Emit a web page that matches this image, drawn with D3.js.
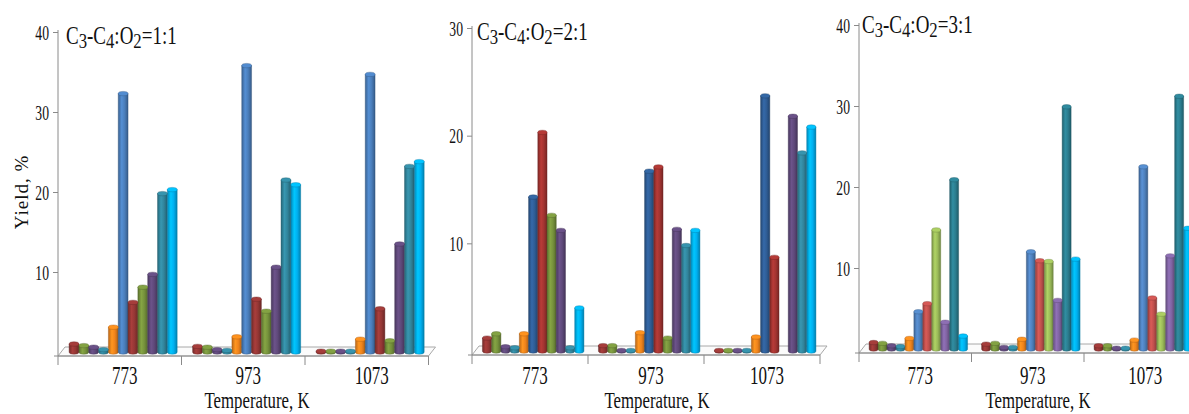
<!DOCTYPE html>
<html lang="en">
<head>
<meta charset="UTF-8">
<title>Yield vs temperature</title>
<style>
  body { margin: 0; background: #fff; }
  text { font-family: "Liberation Serif", "Times New Roman", "DejaVu Serif", serif; fill: #111; }
</style>
</head>
<body>
<svg id="chart" width="1189" height="414" font-family="Liberation Serif, serif"></svg>
<script src="https://cdn.jsdelivr.net/npm/d3@7/dist/d3.min.js"></script>
<script>

const categories = ["773", "973", "1073"]

// yield, % - 11 products per temperature, same order in each panel
const yield11 = [
    [1.0, 0.8, 0.6, 0.3, 3.1, 32.3, 6.2, 8.1, 9.7, 19.8, 20.3],
    [0.7, 0.6, 0.3, 0.2, 1.9, 35.8, 6.6, 5.1, 10.6, 21.5, 20.9],
    [0.1, 0.1, 0.1, 0.1, 1.6, 34.7, 5.4, 1.4, 13.5, 23.2, 23.8]
]
const yield21 = [
    [1.2, 1.6, 0.4, 0.3, 1.6, 14.3, 20.3, 12.6, 11.2, 0.3, 4.0],
    [0.5, 0.5, 0.05, 0.05, 1.7, 16.7, 17.1, 1.2, 11.3, 9.8, 11.2],
    [0.05, 0.05, 0.05, 0.05, 1.3, 23.7, 8.7, 0, 21.8, 18.4, 20.8]
]
const yield31 = [
    [0.8, 0.7, 0.4, 0.3, 1.3, 4.6, 5.6, 14.7, 3.3, 20.9, 1.6],
    [0.6, 0.7, 0.2, 0.2, 1.2, 12.0, 10.9, 10.8, 6.0, 29.9, 11.1],
    [0.4, 0.4, 0.1, 0.1, 1.1, 22.5, 6.3, 4.3, 11.5, 31.2, 14.9]
]

const colors11 = ["#953735", "#76923c", "#5f497a", "#31859c", "#f0841c", "#4a7ebb",
                  "#953735", "#76923c", "#5f497a", "#31859c", "#00b0f0"]
const colors21 = ["#953735", "#76923c", "#5f497a", "#31859c", "#f0841c", "#2f5d95",
                  "#a33431", "#76923c", "#5f497a", "#31859c", "#00b0f0"]
const colors31 = ["#953735", "#76923c", "#5f497a", "#31859c", "#f0841c", "#4f81bd",
                  "#c0504d", "#9bbb59", "#8064a2", "#2b7d8f", "#00b0f0"]

const ratios = ["1:1", "2:1", "3:1"]
const yMax = [40, 30, 40]
const yTicks = [[10, 20, 30, 40], [10, 20, 30], [10, 20, 30, 40]]

// panel placement on the page
const panels = [
    { data: yield11, colors: colors11, x0: 58, catW: 123.5, top: 32, front: 356, titleX: 66, titleY: 44, xTitle: 257 },
    { data: yield21, colors: colors21, x0: 472, catW: 116, top: 28, front: 355, titleX: 477, titleY: 40, xTitle: 657 },
    { data: yield31, colors: colors31, x0: 859, catW: 112.5, top: 25, front: 353, titleX: 862, titleY: 33, xTitle: 1038 }
]

const svg = d3.select("#chart")
const defs = svg.append("defs")
const depth = 7

panels.forEach((p, pi) => {
    let g = svg.append("g")
    let base = p.front - 4

    let y = d3.scaleLinear().domain([0, yMax[pi]]).range([base, p.top])
    let xc = d3.scaleBand().domain(categories).range([p.x0, p.x0 + 3 * p.catW])
    let xs = d3.scaleBand().domain(d3.range(11)).range([0.09 * p.catW, 0.965 * p.catW])

    // floor
    let right = p.x0 + 3 * p.catW
    g.append("path")
        .attr("d", `M${p.x0},${p.front} L${right},${p.front} L${right + depth},${p.front - 9} L${p.x0 + depth},${p.front - 9} Z`)
        .attr("fill", "#fbfbfb")
        .attr("stroke", "#a8a8a8")
    g.append("line")
        .attr("x1", p.x0 - 4).attr("x2", right)
        .attr("y1", p.front).attr("y2", p.front)
        .attr("stroke", "#8a8a8a")

    // category dividers
    g.selectAll(".div")
        .data(d3.range(4))
        .enter()
        .append("line")
        .attr("x1", i => p.x0 + i * p.catW).attr("x2", i => p.x0 + i * p.catW)
        .attr("y1", p.front).attr("y2", p.front + 9)
        .attr("stroke", "#8a8a8a")

    // y axis
    g.append("line")
        .attr("x1", p.x0).attr("x2", p.x0)
        .attr("y1", p.top - 2).attr("y2", p.front)
        .attr("stroke", "#8a8a8a")

    let axis = d3.axisLeft(y).tickValues(yTicks[pi]).tickSize(5).tickFormat(d3.format("d"))
    let ga = g.append("g")
        .attr("transform", `translate(${p.x0},0)`)
        .call(axis)
    ga.select(".domain").remove()
    ga.attr("font-size", 22).attr("font-family", null)
    ga.selectAll(".tick line").attr("stroke", "#8a8a8a")
    ga.selectAll(".tick text")
        .attr("x", 0)
        .attr("fill", "#111")
        .attr("transform", "translate(-9,0) scale(0.62,1)")

    // gradients for the cylinders
    p.colors.forEach((c, si) => {
        let col = d3.color(c)
        let lg = defs.append("linearGradient")
            .attr("id", `cyl${pi}_${si}`)
            .attr("x1", "0%").attr("x2", "100%")
        lg.append("stop").attr("offset", "0%").attr("stop-color", col.darker(0.7))
        lg.append("stop").attr("offset", "35%").attr("stop-color", col.brighter(0.35))
        lg.append("stop").attr("offset", "65%").attr("stop-color", col)
        lg.append("stop").attr("offset", "100%").attr("stop-color", col.darker(0.9))
    })

    let bw = xs.bandwidth()
    let ry = 2.2

    categories.forEach((cat, ci) => {
        let bars = g.append("g")
            .attr("transform", `translate(${xc(cat)},0)`)

        let items = p.data[ci].map((v, si) => ({ v: v, si: si })).filter(d => d.v > 0)

        bars.selectAll("path.bar")
            .data(items)
            .enter()
            .append("path")
            .attr("class", "bar")
            .attr("d", d => {
                let x = xs(d.si), top = y(d.v)
                return `M${x},${top} L${x},${base} A${bw / 2},${ry} 0 0 0 ${x + bw},${base} L${x + bw},${top} Z`
            })
            .attr("fill", d => `url(#cyl${pi}_${d.si})`)
            .attr("stroke", d => d3.color(p.colors[d.si]).darker(1.2))
            .attr("stroke-width", 0.4)

        bars.selectAll("ellipse")
            .data(items)
            .enter()
            .append("ellipse")
            .attr("cx", d => xs(d.si) + bw / 2)
            .attr("cy", d => y(d.v))
            .attr("rx", bw / 2)
            .attr("ry", ry)
            .attr("fill", d => d3.color(p.colors[d.si]).brighter(0.3))
            .attr("stroke", d => d3.color(p.colors[d.si]).darker(1))
            .attr("stroke-width", 0.4)

        // category label
        g.append("text")
            .attr("transform", `translate(${xc(cat) + p.catW / 2 + 5},384) scale(0.68,1)`)
            .attr("text-anchor", "middle")
            .attr("font-size", 25)
            .text(cat)
    })

    // x title
    g.append("text")
        .attr("transform", `translate(${p.xTitle},408) scale(0.7,1)`)
        .attr("text-anchor", "middle")
        .attr("font-size", 24)
        .text("Temperature, K")

    // panel title C3-C4:O2=n:1
    let t = g.append("text")
        .attr("transform", `translate(${p.titleX},${p.titleY}) scale(0.76,1)`)
        .attr("font-size", 25)
    let parts = [["C", false], ["3", true], ["-C", false], ["4", true], [":O", false], ["2", true], ["=" + ratios[pi], false]]
    parts.forEach(([s, sub]) => {
        t.append("tspan")
            .attr("dy", sub ? 4 : (s === "C" ? 0 : -4))
            .attr("font-size", sub ? 22 : 25)
            .text(s)
    })
})

// y title on the first panel only
svg.append("text")
    .attr("transform", "translate(28,192) rotate(-90)")
    .attr("text-anchor", "middle")
    .attr("font-size", 19)
    .attr("letter-spacing", 1)
    .text("Yield, %")

</script>
</body>
</html>
